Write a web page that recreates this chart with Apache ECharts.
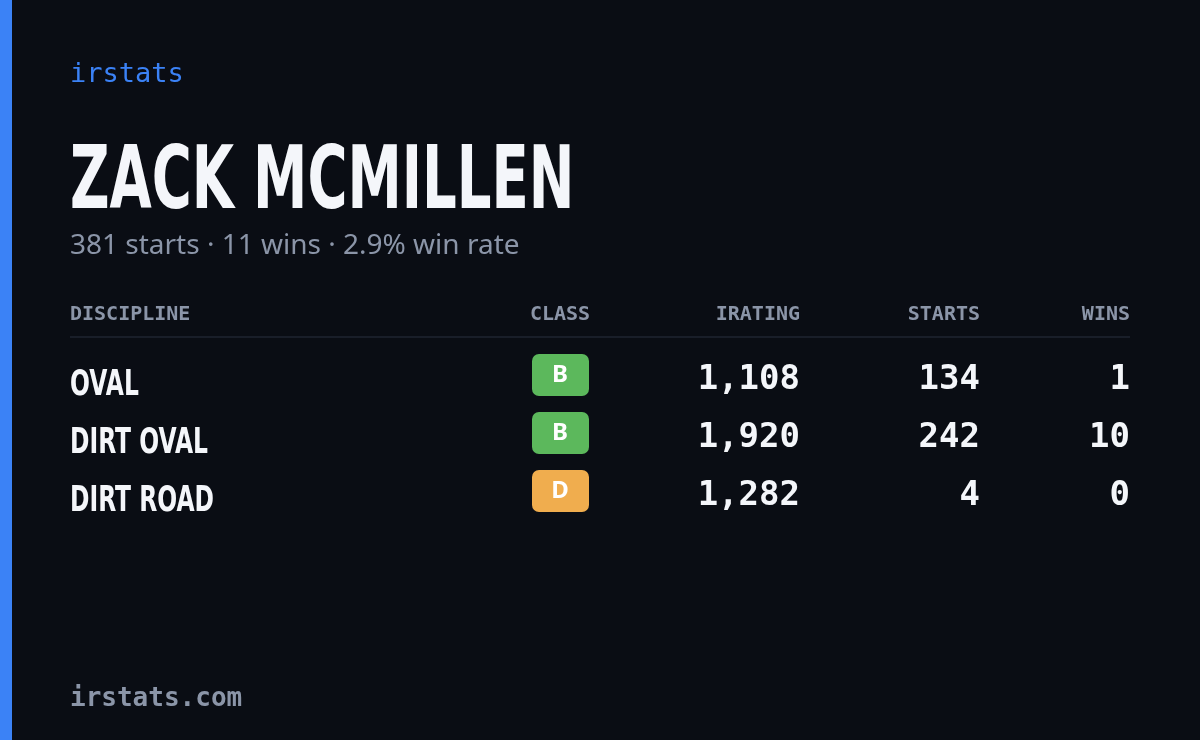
<!DOCTYPE html>
<html><head><meta charset="utf-8">
<script src="https://cdn.jsdelivr.net/npm/echarts@6/dist/echarts.min.js"></script>
<style>html,body{margin:0;background:#0a0d14}#c{width:1200px;height:740px}</style>
</head><body><div id="c"></div>
<script>
var driver = 'ZACK MCMILLEN';
var summary = '381 starts · 11 wins · 2.9% win rate';
var headers = ['DISCIPLINE', 'CLASS', 'IRATING', 'STARTS', 'WINS'];
var disciplines = ['OVAL', 'DIRT OVAL', 'DIRT ROAD'];
var classes = ['B', 'B', 'D'];
var iratings = [1108, 1920, 1282];
var starts = [134, 242, 4];
var wins = [1, 10, 0];

var chart = echarts.init(document.getElementById('c'));
var mono = '"DejaVu Sans Mono", monospace';
var cond = '"DejaVu Sans", sans-serif';
var classColor = {B: '#5cb85c', D: '#f0ad4e'};
var colX = [70, 560, 800, 980, 1130];
var colAlign = ['left', 'center', 'right', 'right', 'right'];

var els = [
  {type: 'rect', shape: {x: 0, y: 0, width: 12, height: 740}, style: {fill: '#3b82f6'}},
  {type: 'text', x: 70, y: 75, style: {text: 'irstats', fill: '#3b82f6', font: '27px ' + mono, verticalAlign: 'middle'}},
  {type: 'text', x: 70, y: 185, scaleX: 0.62, style: {text: driver, fill: '#f4f6fa', font: 'bold 88px ' + cond, verticalAlign: 'middle'}},
  {type: 'text', x: 70, y: 246, style: {text: summary, fill: '#8b95a8', font: '28px "Noto Sans", sans-serif', verticalAlign: 'middle'}},
  {type: 'line', shape: {x1: 70, y1: 337, x2: 1130, y2: 337}, style: {stroke: '#1f2430', lineWidth: 1.5}},
  {type: 'text', x: 70, y: 699, style: {text: 'irstats.com', fill: '#8b95a8', font: 'bold 26px ' + mono, verticalAlign: 'middle'}}
];
headers.forEach(function (h, i) {
  els.push({type: 'text', x: colX[i], y: 315, style: {text: h, fill: '#8b95a8', font: 'bold 20px ' + mono, align: colAlign[i], verticalAlign: 'middle'}});
});
disciplines.forEach(function (d, r) {
  var y = 380 + r * 58;
  els.push({type: 'text', x: 70, y: y + 6, scaleX: 0.65, style: {text: d, fill: '#f4f6fa', font: 'bold 36px ' + cond, verticalAlign: 'middle'}});
  els.push({type: 'rect', shape: {x: 532, y: y - 26, width: 57, height: 42, r: 7}, style: {fill: classColor[classes[r]]}});
  els.push({type: 'text', x: 560, y: y - 5, style: {text: classes[r], fill: '#ffffff', font: 'bold 24px "Noto Sans", sans-serif', align: 'center', verticalAlign: 'middle'}});
  [iratings[r].toLocaleString('en-US'), String(starts[r]), String(wins[r])].forEach(function (v, k) {
    els.push({type: 'text', x: colX[k + 2], y: y, style: {text: v, fill: '#f4f6fa', font: 'bold 34px ' + mono, align: 'right', verticalAlign: 'middle'}});
  });
});
chart.setOption({backgroundColor: '#0a0d14', graphic: {elements: els}});
</script></body></html>
